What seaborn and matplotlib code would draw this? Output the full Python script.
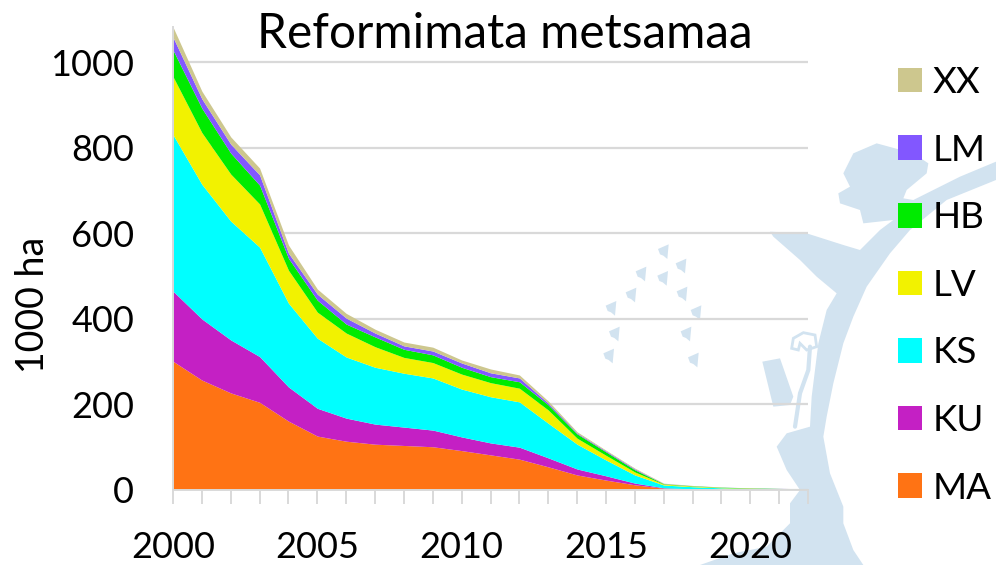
import matplotlib
matplotlib.use('Agg')
import matplotlib.pyplot as plt
from matplotlib.patches import Patch, Polygon
import pandas as pd
import seaborn as sns

# --- data, 1000 ha per year ---
years = list(range(2000, 2023))
ma = [300, 256, 226, 204, 160, 125, 113, 106, 103, 100, 91, 81, 71, 53, 34, 22, 11, 3, 1, 0.6, 0.5, 0.5, 0.4]
ku = [164, 143, 124, 107, 80, 65, 54, 47, 43, 39, 32, 28, 28, 21, 14, 10, 4, 1, 0.5, 0.3, 0.2, 0.2, 0.2]
ks = [366, 315, 278, 256, 196, 164, 143, 133, 126, 122, 112, 108, 106, 81, 58, 37, 19, 6.5, 5, 3, 1.5, 0.5, 0.2]
lv = [136, 121, 110, 101, 77, 61, 56, 48, 37, 36, 35, 33, 32, 31, 14, 11, 7, 2, 1.5, 1, 0.8, 0.5, 0.2]
hb = [62, 57, 49, 44, 28, 28, 21, 23, 19, 18, 16, 14, 15, 12, 10, 8, 5, 1, 0.8, 0.6, 0.6, 0.8, 0.3]
lm = [30, 22, 21, 24, 12, 14, 14, 9, 8, 9, 10, 9, 9, 4, 2, 2, 2, 0.3, 0.2, 0.2, 0.2, 0.2, 0.2]
xx = [24, 18, 17, 16, 19, 12, 11, 9, 9, 9, 7, 9, 7, 5, 3, 2, 2, 1, 0.5, 0.2, 0.1, 0.1, 0.1]

# top to bottom, as in the legend
names = ['XX', 'LM', 'HB', 'LV', 'KS', 'KU', 'MA']
series = [xx, lm, hb, lv, ks, ku, ma]
colors = ['#CDC78E', '#8257FF', '#00EB00', '#F2F200', '#00FFFF', '#C420C4', '#FF7314']

tick_labels = {2000: '2000', 2005: '2005', 2010: '2010', 2015: '2015', 2020: '2020'}

WATER = '#D2E3F0'
GRID = '#D9D9D9'


def zoom_px(pts):
    """Watermark outline was traced in a crop starting at (560, 130), 3x"""
    return [(560 + x / 3, 130 + y / 3) for x, y in pts]


def draw_watermark(fig):
    """Faint map behind the chart"""
    bg = fig.add_axes([0, 0, 1, 1], zorder=-1)
    bg.set_xlim(0, 996)
    bg.set_ylim(565, 0)
    bg.axis('off')

    land = [(850, 130), (880, 70), (950, 40), (1060, 70), (1105, 100), (1100, 130), (1040, 180), (1030, 205),
            (1060, 210), (1200, 140), (1308, 95), (1308, 150), (1160, 210), (1050, 300), (990, 370), (920, 470),
            (880, 560), (850, 640), (820, 760), (800, 860), (790, 920), (810, 1030), (850, 1130), (850, 1180),
            (880, 1260), (910, 1305), (420, 1305), (520, 1270), (620, 1250), (690, 1180), (690, 1120), (720, 1080),
            (680, 1020), (650, 950), (680, 910), (750, 890), (755, 800), (775, 640), (800, 540), (830, 490),
            (770, 440), (720, 390), (640, 320), (630, 305), (740, 310), (850, 345), (900, 360), (960, 300),
            (1000, 270), (910, 280), (900, 240), (840, 220), (835, 190), (870, 170)]
    bg.add_patch(Polygon(zoom_px(land), closed=True, fc=WATER, ec='none'))

    pier = [(607, 695), (660, 685), (700, 800), (690, 825), (640, 830)]
    bg.add_patch(Polygon(zoom_px(pier), closed=True, fc=WATER, ec='none'))

    ring = [(695, 655), (700, 625), (730, 608), (765, 615), (770, 650), (740, 660), (720, 640), (715, 660)]
    bg.add_patch(Polygon(zoom_px(ring), closed=True, fc='none', ec=WATER, lw=2))
    bg.plot(*zip(*zoom_px([(750, 650), (745, 720), (720, 790), (705, 890)])), color=WATER, lw=3)

    islands = [(312, 365), (365, 408), (245, 432), (310, 445), (215, 495), (368, 492), (155, 535), (410, 548),
               (165, 612), (380, 612), (148, 678), (402, 690)]
    for x, y in islands:
        shape = [(x - 18, y - 8), (x + 14, y - 22), (x + 10, y + 22), (x - 2, y + 12), (x - 12, y + 8)]
        bg.add_patch(Polygon(zoom_px(shape), closed=True, fc=WATER, ec='none'))


# --- chart ---
sns.set_theme(style='white')
plt.rcParams['font.family'] = ['Lato', 'DejaVu Sans']

fig = plt.figure(figsize=(9.96, 5.65), dpi=100)
fig.patch.set_facecolor('white')
draw_watermark(fig)

ax = fig.add_axes([173 / 996, 1 - 489.5 / 565, (808 - 173) / 996, (489.5 - 27) / 565])
ax.patch.set_alpha(0)

df = pd.DataFrame({
    'year': years * len(names),
    'value': [v for s in series for v in s],
    'name': [n for n in names for _ in years],
})

sns.histplot(data=df, x='year', weights='value', hue='name', hue_order=names,
             palette=dict(zip(names, colors)), multiple='stack', element='poly', discrete=True,
             alpha=1, linewidth=0, legend=False, ax=ax)

ax.set_xlim(2000, 2022)
ax.set_ylim(0, 1082)
ax.set_axisbelow(True)
ax.yaxis.grid(True, color=GRID, lw=1.6)
ax.xaxis.grid(False)

ax.set_xticks(years)
ax.set_xticklabels([tick_labels.get(y, '') for y in years])
ax.set_yticks([0, 200, 400, 600, 800, 1000])
ax.tick_params(axis='x', length=10, width=1.4, color=GRID, labelsize=26, pad=20, labelcolor='black', bottom=True)
ax.tick_params(axis='y', length=0, labelsize=26, pad=28, labelcolor='black')

ax.set_xlabel('')
ax.set_ylabel('1000 ha', fontsize=27, color='black')
ax.yaxis.set_label_coords((51 - 173) / 635, 0.40)

sns.despine(ax=ax, top=True, right=True)
for side in ['left', 'bottom']:
    ax.spines[side].set_color(GRID)
    ax.spines[side].set_linewidth(1.4)

fig.text(504.5 / 996, 1 - 34 / 565, 'Reformimata metsamaa', fontsize=34.4, color='black', ha='center', va='center')

handles = [Patch(facecolor=c, edgecolor='none', label=n) for n, c in zip(names, colors)]
ax.legend(handles=handles, loc='upper left', bbox_to_anchor=(898 / 996, 1 - 66 / 565),
          bbox_transform=fig.transFigure, frameon=False, fontsize=26.5, handlelength=0.65, handleheight=0.65,
          handletextpad=0.29, labelspacing=0.94, borderpad=0, borderaxespad=0, labelcolor='black')

fig.savefig('out.png', dpi=100)
plt.close(fig)
